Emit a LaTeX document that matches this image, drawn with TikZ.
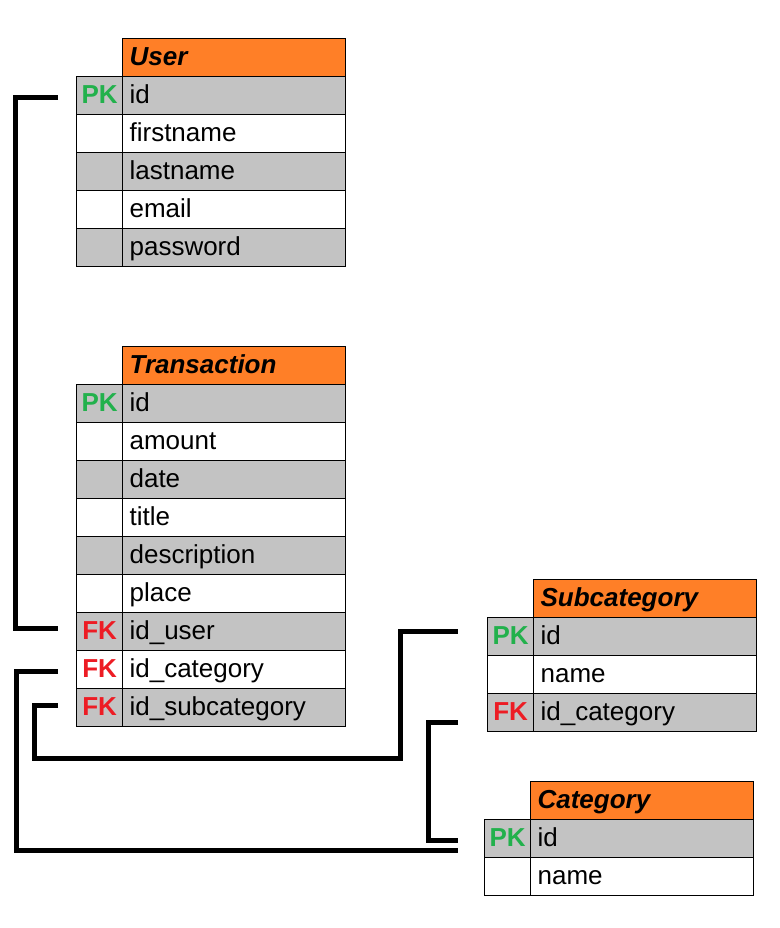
\documentclass[tikz,border=0pt]{standalone}
\usepackage{fontspec}
\setmainfont{Liberation Sans}

\definecolor{headorange}{HTML}{FF7F27}
\definecolor{rowgrey}{HTML}{C3C3C3}
\definecolor{pkgreen}{HTML}{22B14C}
\definecolor{fkred}{HTML}{ED1C24}
\newcommand{\PK}{\textcolor{pkgreen}{PK}}
\newcommand{\FK}{\textcolor{fkred}{FK}}

\begin{document}
\begin{tikzpicture}[x=1pt, y=-1pt,
    every node/.style={font=\fontsize{26}{30}\selectfont, inner sep=0pt, text height=20pt, text depth=4pt},
    cell/.style={draw, line width=1.2pt, minimum height=38pt, anchor=north west},
    keycell/.style={cell, minimum width=46pt, font=\fontsize{26}{30}\selectfont\bfseries},
    namecell/.style={cell, inner xsep=7pt, text width=209pt, align=left},
    head/.style={namecell, fill=headorange, font=\fontsize{26}{30}\selectfont\bfseries\itshape},
    link/.style={line width=5pt}]
    \useasboundingbox (0,0) rectangle (779,928);

    % User table
    \def\tx{76} \def\ty{76}
    \node[head] (user-h) at (\tx+46,\ty-38) {User};
    \foreach \k/\f/\n [count=\i] in {\PK/rowgrey/id, /white/firstname, /rowgrey/lastname, /white/email, /rowgrey/password}{
        \node[keycell, fill=\f] (user-\i-k) at (\tx,\ty+38*\i-38) {\k};
        \node[namecell, fill=\f] (user-\i) at (\tx+46,\ty+38*\i-38) {\n};
    }

    % Transaction table
    \def\tx{76} \def\ty{384}
    \node[head] (trans-h) at (\tx+46,\ty-38) {Transaction};
    \foreach \k/\f/\n [count=\i] in {\PK/rowgrey/id, /white/amount, /rowgrey/date, /white/title, /rowgrey/description, /white/place, \FK/rowgrey/id\_user, \FK/white/id\_category, \FK/rowgrey/id\_subcategory}{
        \node[keycell, fill=\f] (trans-\i-k) at (\tx,\ty+38*\i-38) {\k};
        \node[namecell, fill=\f] (trans-\i) at (\tx+46,\ty+38*\i-38) {\n};
    }

    % Subcategory table
    \def\tx{487} \def\ty{617}
    \node[head] (sub-h) at (\tx+46,\ty-38) {Subcategory};
    \foreach \k/\f/\n [count=\i] in {\PK/rowgrey/id, /white/name, \FK/rowgrey/id\_category}{
        \node[keycell, fill=\f] (sub-\i-k) at (\tx,\ty+38*\i-38) {\k};
        \node[namecell, fill=\f] (sub-\i) at (\tx+46,\ty+38*\i-38) {\n};
    }

    % Category table
    \def\tx{484} \def\ty{819}
    \node[head] (cat-h) at (\tx+46,\ty-38) {Category};
    \foreach \k/\f/\n [count=\i] in {\PK/rowgrey/id, /white/name}{
        \node[keycell, fill=\f] (cat-\i-k) at (\tx,\ty+38*\i-38) {\k};
        \node[namecell, fill=\f] (cat-\i) at (\tx+46,\ty+38*\i-38) {\n};
    }

    % Line ends, just off the key columns
    \coordinate (u1) at ([xshift=-18pt, yshift=-2pt]user-1-k.west);
    \coordinate (t7) at ([xshift=-18pt, yshift=3pt]trans-7-k.west);
    \coordinate (t8) at ([xshift=-18pt, yshift=-2pt]trans-8-k.west);
    \coordinate (t9) at ([xshift=-18pt, yshift=2pt]trans-9-k.west);
    \coordinate (s1) at ([xshift=-29pt, yshift=5pt]sub-1-k.west);
    \coordinate (s3) at ([xshift=-29pt, yshift=-10pt]sub-3-k.west);
    \coordinate (c1a) at ([xshift=-26pt, yshift=-12pt]cat-1-k.west);
    \coordinate (c1b) at ([xshift=-26pt, yshift=-2pt]cat-1-k.west);

    % Relations
    \draw[link] (u1) -- ++(-43,0) |- (t7);
    \draw[link] (t8) -- ++(-42,0) |- (c1a);
    \draw[link] (t9) -- ++(-24,0) -- ++(0,53) -| ([xshift=-58pt]s1) -- (s1);
    \draw[link] (s3) -- ++(-30,0) |- (c1b);
\end{tikzpicture}
\end{document}
